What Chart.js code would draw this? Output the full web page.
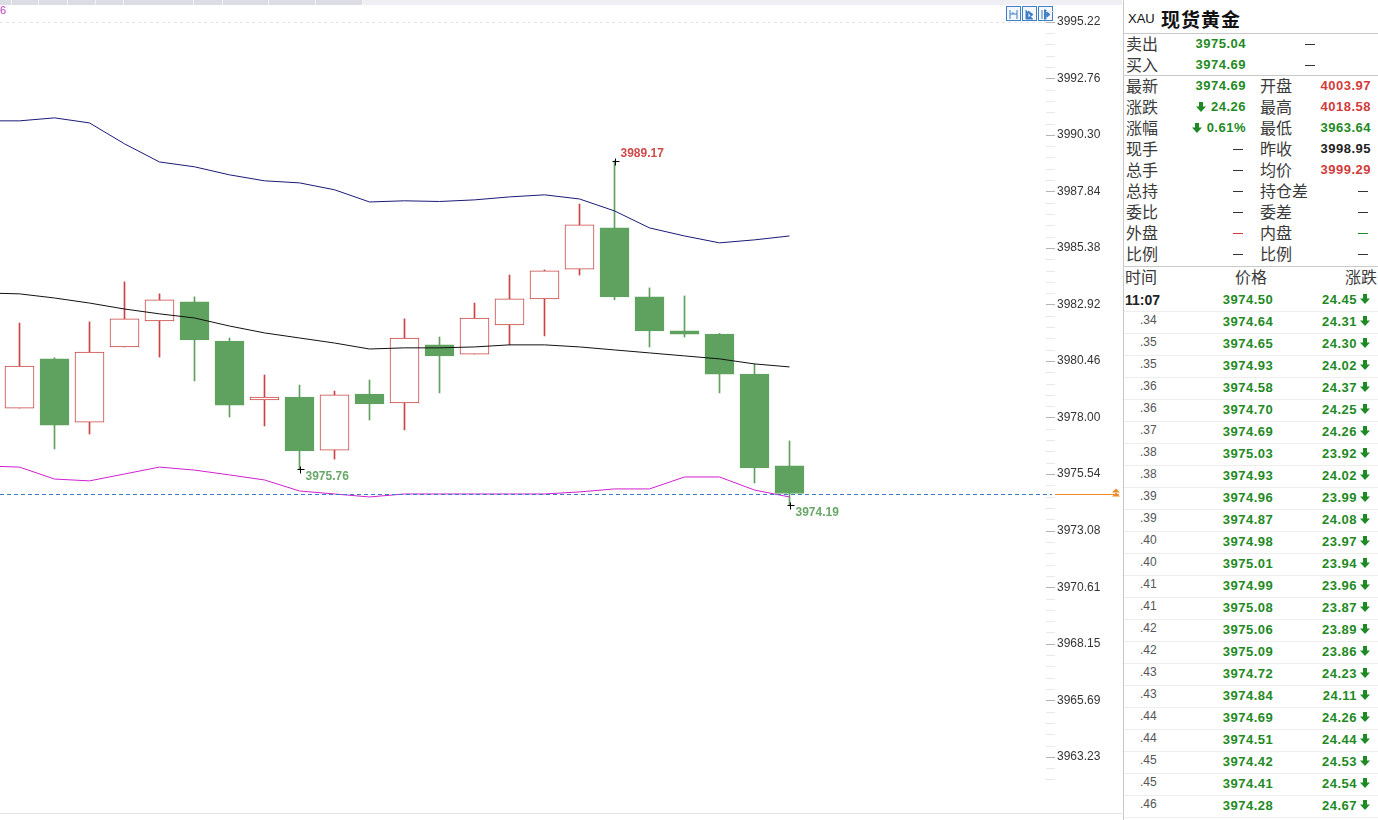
<!DOCTYPE html>
<html>
<head>
<meta charset="utf-8">
<script src="https://cdn.jsdelivr.net/npm/chart.js@4.4.1/dist/chart.umd.min.js"></script>
<style>
body{margin:0;background:#fff;width:1378px;height:820px;overflow:hidden;position:relative;font-family:"Liberation Sans",Arial,sans-serif}
#c{position:absolute;left:0;top:0}
.abs{position:absolute;white-space:nowrap}
.strip{position:absolute;left:0;top:0;width:1122px;height:5px;background:#f0f0f4}
.seg{position:absolute;top:0;height:5px;background:#dcdce5;border-right:1px solid #f4f4f8}
.icon{position:absolute;top:6px;width:13px;height:13px;border:1px solid #3f7fc6;background:#f4f8fd}
.cn{font-family:"Noto Sans CJK SC",sans-serif;font-size:16px;color:#3a3a3a}
.num{font-family:"Liberation Sans",Arial,sans-serif;font-weight:bold;font-size:13px;letter-spacing:0.5px}
.g{color:#1f8a24}.r{color:#d23b3b}.k{color:#222}
.dash{position:absolute;width:10px;height:1px;background:#333}
.hline{position:absolute;left:1124px;width:254px;height:1px}
.row{position:absolute;height:20px;line-height:20px}
svg.arr{display:block}
</style>
</head>
<body>
<div class="strip" id="strip"></div>
<div class="abs" style="left:0;top:4px;font-size:11px;color:#c040c0">6</div>
<div class="icon" style="left:1006px"><svg width="13" height="13"><path d="M3 2v9M3 6h7M10 2v9M6 4v2" stroke="#3f7fc6" fill="none"/></svg></div>
<div class="icon" style="left:1022px"><svg width="13" height="13"><path d="M3 2v9h7M5 3l5 3.5-5 3.5z" stroke="#3f7fc6" fill="#3f7fc6"/></svg></div>
<div class="icon" style="left:1038px"><svg width="13" height="13"><path d="M3 2v9M5 2h2v9H5M7 6.5h3M8 4l3 2.5L8 9z" stroke="#3f7fc6" fill="#3f7fc6"/></svg></div>
<canvas id="c" width="1122" height="813"></canvas>
<div class="abs" style="left:0;top:813px;width:1122px;height:1px;background:#e4e4e8"></div>
<div class="abs" style="left:1123px;top:0;width:1px;height:820px;background:#c9c9cc"></div>
<div id="panel"></div>
<script>
// axis tick labels
const tickLabels = ['3995.22','3992.76','3990.30','3987.84','3985.38','3982.92','3980.46',
  '3978.00','3975.54','3973.08','3970.61','3968.15','3965.69','3963.23'];

// candles (index 0 = left-most bar on screen)
const opens  = [3978.41,3980.55,3977.80,3981.07,3982.20,3983.03,3981.33,3978.76,3978.89,3976.58,3979.02,3978.63,
  3981.16,3980.76,3982.03,3983.16,3984.46,3986.25,3983.25,3981.77,3981.63,3979.89,3975.89];
const closes = [3980.24,3977.67,3980.85,3982.29,3983.12,3981.37,3978.54,3978.89,3976.54,3978.98,3978.59,3981.46,
  3980.68,3982.33,3983.16,3984.38,3986.38,3983.25,3981.77,3981.63,3979.89,3975.80,3974.69];
const highs  = [3982.11,3980.60,3982.16,3983.90,3983.38,3983.25,3981.46,3979.85,3979.41,3979.15,3979.63,3982.29,
  3981.50,3982.98,3984.20,3984.42,3987.29,3989.17,3983.64,3983.29,3981.66,3980.33,3976.98];
const lows   = [3978.41,3976.63,3977.28,3981.07,3980.63,3979.59,3978.02,3977.63,3975.76,3976.19,3977.89,3977.46,
  3979.07,3980.76,3981.16,3981.55,3984.20,3983.12,3981.07,3981.50,3979.07,3975.15,3974.19];

// band lines, first value belongs to the bar just left of the screen
const upper = [3990.91,3990.91,3991.04,3990.82,3989.91,3989.12,3988.91,3988.56,3988.30,3988.21,3987.91,3987.38,
  3987.43,3987.40,3987.47,3987.60,3987.69,3987.51,3986.99,3986.25,3985.90,3985.60,3985.73,3985.90];
const middle = [3983.42,3983.38,3983.20,3982.98,3982.72,3982.51,3982.33,3981.98,3981.68,3981.46,3981.24,3980.98,
  3981.03,3981.03,3981.07,3981.16,3981.16,3981.07,3980.94,3980.81,3980.68,3980.55,3980.33,3980.20];
const lower  = [3975.89,3975.84,3975.32,3975.24,3975.54,3975.84,3975.71,3975.50,3975.28,3974.80,3974.67,3974.54,
  3974.67,3974.67,3974.67,3974.67,3974.67,3974.76,3974.89,3974.89,3975.41,3975.41,3974.84,3974.54];

const lastPrice = 3974.69;
const marks = [[17, 'high'], [8, 'low'], [22, 'low']];

// quote panel
const quoteRows = [
  ['卖出','3975.04','g','','—',''],
  ['买入','3974.69','g','','—',''],
  ['最新','3974.69','g','开盘','4003.97','r'],
  ['涨跌','24.26','ga','最高','4018.58','r'],
  ['涨幅','0.61%','ga','最低','3963.64','g'],
  ['现手','—','k','昨收','3998.95','k'],
  ['总手','—','k','均价','3999.29','r'],
  ['总持','—','k','持仓差','—','k'],
  ['委比','—','k','委差','—','k'],
  ['外盘','—','r','内盘','—','g'],
  ['比例','—','k','比例','—','k']
];
const tradeTimes = ['11:07','.34','.35','.35','.36','.36','.37','.38','.38','.39','.39','.40',
  '.40','.41','.41','.42','.42','.43','.43','.44','.44','.45','.45','.46'];
const tradePrices = ['3974.50','3974.64','3974.65','3974.93','3974.58','3974.70','3974.69','3975.03','3974.93','3974.96','3974.87','3974.98',
  '3975.01','3974.99','3975.08','3975.06','3975.09','3974.72','3974.84','3974.69','3974.51','3974.42','3974.41','3974.28'];
const tradeChanges = ['24.45','24.31','24.30','24.02','24.37','24.25','24.26','23.92','24.02','23.99','24.08','23.97',
  '23.94','23.96','23.87','23.89','23.86','24.23','24.11','24.26','24.44','24.53','24.54','24.67'];

const red = '#c94545';
const green = '#5fa25f';
const tickStep = (parseFloat(tickLabels[0]) - parseFloat(tickLabels[tickLabels.length - 1])) / (tickLabels.length - 1);

const overlay = {
  id: 'overlay',
  afterDatasetsDraw(chart){
    const {ctx, chartArea, scales: {x, y}} = chart;
    ctx.save();

    // faint dashed line at the top tick
    let gy = Math.round(y.getPixelForValue(parseFloat(tickLabels[0]))) + 0.5;
    ctx.lineWidth = 1;
    ctx.strokeStyle = '#e3e3e3';
    ctx.setLineDash([3, 3]);
    ctx.beginPath(); ctx.moveTo(chartArea.left, gy); ctx.lineTo(chartArea.right, gy); ctx.stroke();

    // last price line
    const py = Math.round(y.getPixelForValue(lastPrice)) + 0.5;
    ctx.strokeStyle = '#3a7cc8';
    ctx.setLineDash([4, 3]);
    ctx.beginPath(); ctx.moveTo(chartArea.left, py); ctx.lineTo(chartArea.right, py); ctx.stroke();
    ctx.setLineDash([]);
    ctx.strokeStyle = '#f0892a';
    ctx.beginPath(); ctx.moveTo(chartArea.right + 3, py); ctx.lineTo(chart.width - 3, py); ctx.stroke();
    ctx.fillStyle = '#f0892a';
    const tx = chart.width - 6;
    [py - 6, py - 2].forEach((t) => {
      ctx.beginPath(); ctx.moveTo(tx - 4, t + 4); ctx.lineTo(tx, t); ctx.lineTo(tx + 4, t + 4); ctx.closePath(); ctx.fill();
    });

    // axis tick marks
    tickLabels.forEach((t) => {
      for(let j = -2; j < 3; j++){
        const v = parseFloat(t) + j * tickStep / 5;
        const yy = Math.round(y.getPixelForValue(v)) + 0.5;
        if(yy < 2 || yy > chartArea.bottom - 2) continue;
        ctx.strokeStyle = j == 0 ? '#b5b5b5' : '#e8e8e8';
        ctx.beginPath(); ctx.moveTo(chartArea.right - 6, yy); ctx.lineTo(chartArea.right + 3, yy); ctx.stroke();
      }
    });

    // high / low marks
    ctx.font = 'bold 12px "Liberation Sans", Arial';
    ctx.textBaseline = 'middle';
    marks.forEach(([i, kind]) => {
      const v = kind == 'high' ? highs[i] : lows[i];
      const mx = Math.round(x.getPixelForValue(i)) + 0.5;
      const my = Math.round(y.getPixelForValue(v)) + 0.5;
      ctx.strokeStyle = '#000';
      ctx.beginPath();
      ctx.moveTo(mx - 3, my); ctx.lineTo(mx + 4, my);
      ctx.moveTo(mx, my - 3); ctx.lineTo(mx, my + 4);
      ctx.stroke();
      ctx.fillStyle = kind == 'high' ? '#cf4a4a' : '#6aa86a';
      ctx.fillText(v.toFixed(2), mx + 5, kind == 'high' ? my - 8 : my + 7);
    });
    ctx.restore();
  }
};

const up = opens.map((o, i) => closes[i] >= o);

new Chart(document.getElementById('c'), {
  type: 'bar',
  data: {
    datasets: [
      {type: 'line', data: upper.map((v, i) => ({x: i - 1, y: v})), borderColor: '#1a1a78', borderWidth: 1, pointRadius: 0, order: 0},
      {type: 'line', data: middle.map((v, i) => ({x: i - 1, y: v})), borderColor: '#111', borderWidth: 1, pointRadius: 0, order: 0},
      {type: 'line', data: lower.map((v, i) => ({x: i - 1, y: v})), borderColor: '#d020d0', borderWidth: 1, pointRadius: 0, order: 0},
      {
        data: opens.map((o, i) => ({x: i, y: [o, closes[i]]})),
        backgroundColor: up.map((u) => u ? '#fff' : green),
        borderColor: up.map((u) => u ? red : green),
        borderWidth: 1, borderSkipped: false, barThickness: 29, grouped: false, order: 1
      },
      {
        data: lows.map((l, i) => ({x: i, y: [l, highs[i]]})),
        backgroundColor: up.map((u) => u ? red : green),
        barThickness: 1, grouped: false, order: 2
      }
    ]
  },
  options: {
    responsive: false,
    animation: false,
    events: [],
    layout: {padding: 0},
    plugins: {legend: {display: false}, tooltip: {enabled: false}},
    scales: {
      x: {type: 'linear', display: false, offset: false, min: -19.5 / 35, max: -19.5 / 35 + 1052 / 35},
      y: {
        position: 'right',
        min: 3960.785, max: 3996.170,
        grid: {display: false},
        border: {display: false},
        ticks: {
          color: '#333', padding: -3, autoSkip: false,
          font: {family: '"Liberation Sans", Arial', size: 12},
          callback: (v, i) => tickLabels[i]
        },
        afterBuildTicks: (s) => { s.ticks = tickLabels.map((t) => ({value: parseFloat(t)})); },
        afterFit: (s) => { s.width = 70; s.paddingTop = 0; s.paddingBottom = 0; }
      }
    }
  },
  plugins: [overlay]
});

// top strip
const strip = document.getElementById('strip');
const segEdges = [0, 12, 39, 68, 96, 124, 194, 223, 269, 316, 363];
for(let i = 0; i < segEdges.length - 1; i++){
  const d = document.createElement('div');
  d.className = 'seg';
  d.style.left = segEdges[i] + 'px';
  d.style.width = (segEdges[i + 1] - segEdges[i] - 1) + 'px';
  strip.appendChild(d);
}

// right panel
const arrowPath = (c) => `<path d="M3 0h4v4.5h3L5 10 0 4.5h3z" fill="${c}"/>`;
const inlineArrow = (c) => `<svg width="10" height="10" style="margin-right:5px;vertical-align:-1px">${arrowPath(c)}</svg>`;
const dashColor = {g: '#1f8a24', r: '#d23b3b', k: '#333'};
let html = '';
html += `<div class="abs" style="left:1128px;top:11px;font-size:13px;color:#111">XAU</div>`;
html += `<div class="abs" style="left:1161px;top:5px;font-family:'Noto Sans CJK SC';font-weight:bold;font-size:19px;color:#111;letter-spacing:1px">现货黄金</div>`;
html += `<div class="hline" style="top:33px;background:#c9c9cc"></div>`;
html += `<div class="hline" style="top:75px;background:#c9c9cc"></div>`;
html += `<div class="hline" style="top:266px;background:#c9c9cc"></div>`;

quoteRows.forEach((r, k) => {
  const c = 44 + k * 21;
  html += `<div class="row cn" style="left:1126px;top:${c - 11}px">${r[0]}</div>`;
  if(r[1] == '—'){
    html += `<div class="dash" style="left:1233px;top:${c}px;background:${dashColor[r[2]]}"></div>`;
  } else {
    const col = r[2][0];
    html += `<div class="row num ${col}" style="right:132px;top:${c - 10}px">${r[2] == 'ga' ? inlineArrow('#1f8a24') : ''}${r[1]}</div>`;
  }
  if(r[3]) html += `<div class="row cn" style="left:1260px;top:${c - 11}px">${r[3]}</div>`;
  if(r[4] == '—'){
    const left = r[3] ? 1358 : 1305;
    html += `<div class="dash" style="left:${left}px;top:${c}px;background:${dashColor[r[5] || 'k']}"></div>`;
  } else {
    html += `<div class="row num ${r[5]}" style="right:7px;top:${c - 10}px">${r[4]}</div>`;
  }
});

html += `<div class="row cn" style="left:1125px;top:266px">时间</div>`;
html += `<div class="row cn" style="left:1235px;top:266px">价格</div>`;
html += `<div class="row cn" style="left:1345px;top:266px">涨跌</div>`;

tradeTimes.forEach((t, k) => {
  const c = 300 + k * 22;
  if(k == 0){
    html += `<div class="row num" style="left:1125px;top:${c - 10}px;font-size:14px;color:#222;letter-spacing:0">${t}</div>`;
  } else {
    html += `<div class="row" style="left:1140px;top:${c - 12}px;font-size:12px;color:#555">${t}</div>`;
  }
  html += `<div class="row num g" style="left:1198px;width:100px;text-align:center;top:${c - 10}px">${tradePrices[k]}</div>`;
  html += `<div class="row num g" style="right:21px;top:${c - 10}px">${tradeChanges[k]}</div>`;
  html += `<div class="abs" style="left:1360px;top:${c - 6}px"><svg class="arr" width="10" height="10">${arrowPath('#1f8a24')}</svg></div>`;
  html += `<div class="hline" style="top:${c + 11}px;background:#eeeeee"></div>`;
});
document.getElementById('panel').innerHTML = html;
</script>
</body>
</html>
